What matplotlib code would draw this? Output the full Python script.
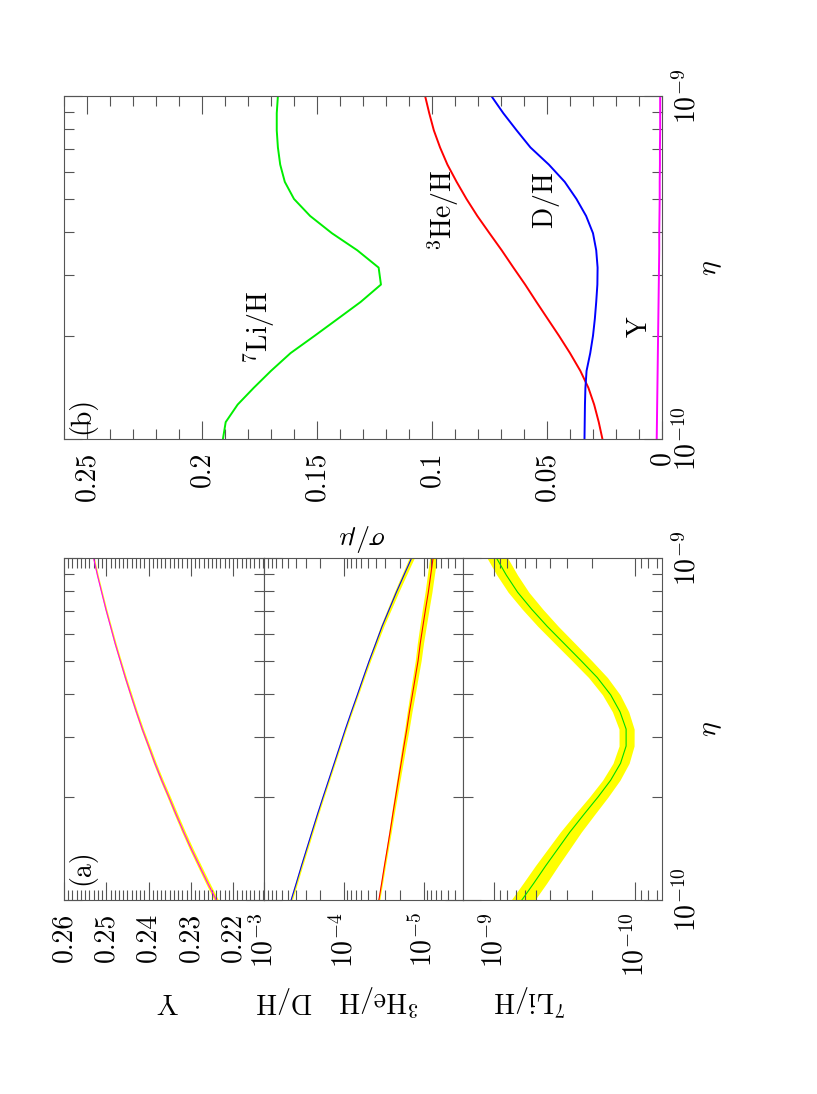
import matplotlib
matplotlib.use("Agg")
import matplotlib.pyplot as plt
from matplotlib.ticker import MultipleLocator, FormatStrFormatter, NullFormatter
import numpy as np

plt.rcParams['font.family'] = 'cmr10'
plt.rcParams['mathtext.fontset'] = 'cm'
plt.rcParams['axes.formatter.use_mathtext'] = True

# baryon-to-photon ratio grid (units of 1e-10)
eta10 = [1.00, 1.12, 1.26, 1.41, 1.58, 1.78, 2.00, 2.24, 2.51, 2.82, 3.16,
         3.55, 3.98, 4.47, 5.01, 5.62, 6.31, 7.08, 7.94, 8.91, 10.0]

# mean abundances
Y_mean = [0.2240, 0.2260, 0.2280, 0.2299, 0.2317, 0.2335, 0.2352, 0.2369, 0.2385, 0.2400, 0.2415,
          0.2429, 0.2442, 0.2455, 0.2467, 0.2479, 0.2490, 0.2501, 0.2511, 0.2521, 0.2530]
DH_mean = [4.57e-4, 3.94e-4, 3.39e-4, 2.92e-4, 2.51e-4, 2.14e-4, 1.82e-4, 1.55e-4, 1.32e-4, 1.12e-4, 9.55e-5,
           8.04e-5, 6.76e-5, 5.69e-5, 4.79e-5, 3.98e-5, 3.31e-5, 2.69e-5, 2.19e-5, 1.76e-5, 1.41e-5]
He3_mean = [3.63e-5, 3.35e-5, 3.09e-5, 2.85e-5, 2.63e-5, 2.43e-5, 2.24e-5, 2.07e-5, 1.91e-5, 1.76e-5, 1.62e-5,
            1.50e-5, 1.38e-5, 1.27e-5, 1.17e-5, 1.10e-5, 1.02e-5, 9.44e-6, 8.71e-6, 8.13e-6, 7.59e-6]
Li7_mean = [6.31e-10, 5.19e-10, 4.27e-10, 3.51e-10, 2.88e-10, 2.29e-10, 1.82e-10, 1.48e-10, 1.26e-10, 1.15e-10, 1.15e-10,
            1.27e-10, 1.48e-10, 1.84e-10, 2.40e-10, 3.16e-10, 4.17e-10, 5.37e-10, 6.76e-10, 8.13e-10, 9.55e-10]

# relative uncertainties sigma/mu
Y_rel = [0.0023, 0.0022, 0.0021, 0.0020, 0.0019, 0.0018, 0.0017, 0.0016, 0.0015, 0.0014, 0.0013,
         0.0012, 0.0012, 0.0011, 0.0010, 0.0010, 0.0009, 0.0009, 0.0008, 0.0008, 0.0008]
DH_rel = [0.0337, 0.0336, 0.0335, 0.0333, 0.0328, 0.0312, 0.0300, 0.0292, 0.0286, 0.0281, 0.0280,
          0.0286, 0.0300, 0.0330, 0.0372, 0.0423, 0.0492, 0.0572, 0.0632, 0.0690, 0.0742]
He3_rel = [0.0259, 0.0275, 0.0295, 0.0320, 0.0355, 0.0400, 0.0448, 0.0497, 0.0546, 0.0595, 0.0646,
           0.0697, 0.0750, 0.0803, 0.0850, 0.0893, 0.0933, 0.0965, 0.0992, 0.1012, 0.1030]
Li7_rel = [0.1909, 0.1897, 0.1845, 0.1775, 0.1700, 0.1615, 0.1510, 0.1410, 0.1310, 0.1222, 0.1232,
           0.1325, 0.1435, 0.1530, 0.1600, 0.1640, 0.1660, 0.1670, 0.1675, 0.1675, 0.1670]

W, H = 817, 1094
GRAY = '#555555'
FS = 20

eta = np.array(eta10) * 1e-10

fig = plt.figure(figsize=(W / 100, H / 100), dpi=100)


def box(x0, y0, x1, y1):
    return [x0 / W, 1 - y1 / H, (x1 - x0) / W, (y1 - y0) / H]


def ftext(px, py, s, rot):
    fig.text(px / W, 1 - py / H, s, rotation=rot, ha='center', va='center', fontsize=FS)


def setup(ax, label_right):
    ax.set_yscale('log')
    ax.set_ylim(1e-10, 1e-9)
    ax.yaxis.set_minor_formatter(NullFormatter())
    ax.tick_params(which='both', direction='in', top=True, bottom=True, left=True, right=True,
                   color=GRAY, width=0.8, labelsize=FS)
    ax.tick_params(which='major', length=13)
    ax.tick_params(which='minor', length=7)
    ax.tick_params(axis='y', labelleft=False, labelright=label_right, labelrotation=90, pad=8)
    ax.tick_params(axis='x', labelrotation=90, pad=9)
    for s in ax.spines.values():
        s.set_color(GRAY)
        s.set_linewidth(0.8)


def band(ax, mu, rel, color, lw=0.8):
    mu = np.array(mu)
    rel = np.array(rel)
    ax.fill_betweenx(eta, mu * (1 - rel), mu * (1 + rel), color='#ffff00', lw=0)
    ax.plot(mu, eta, color=color, lw=lw)


# ---- panel (b): relative errors
axb = fig.add_axes(box(64, 96, 662, 439))
setup(axb, True)
axb.plot(Li7_rel, eta, color='#00ee00', lw=1.4)
axb.plot(He3_rel, eta, color='#ff0000', lw=1.4)
axb.plot(DH_rel, eta, color='#0000ff', lw=1.4)
axb.plot(Y_rel, eta, color='#ff00ff', lw=1.4)
axb.set_xlim(0.26, 0)
axb.xaxis.set_major_locator(MultipleLocator(0.05))
axb.xaxis.set_minor_locator(MultipleLocator(0.01))
axb.xaxis.set_major_formatter(FormatStrFormatter('%g'))

# ---- panel (a): abundances
axY = fig.add_axes(box(64, 558, 264, 900))
setup(axY, False)
band(axY, Y_mean, Y_rel, '#ff00ff')
axY.set_xlim(0.26, 0.2127)
axY.xaxis.set_major_locator(MultipleLocator(0.01))
axY.xaxis.set_minor_locator(MultipleLocator(0.001))
axY.xaxis.set_major_formatter(FormatStrFormatter('%g'))

axD = fig.add_axes(box(264, 558, 463, 900))
setup(axD, False)
band(axD, DH_mean, DH_rel, '#0000ff')
band(axD, He3_mean, He3_rel, '#ff0000')
axD.set_xscale('log')
axD.set_xlim(1e-3, 3.2e-6)
axD.xaxis.set_minor_formatter(NullFormatter())

axL = fig.add_axes(box(463, 558, 662, 900))
setup(axL, True)
band(axL, Li7_mean, Li7_rel, '#00dd00')
axL.set_xscale('log')
axL.set_xlim(1.65e-9, 6.4e-11)
axL.xaxis.set_minor_formatter(NullFormatter())

for ax in (axb, axY, axD, axL):
    ax.tick_params(axis='x', labelrotation=90, pad=9)
    for t in ax.yaxis.get_major_ticks():
        t.label2.set_verticalalignment('center')

# ---- labels
ftext(82, 415, '(b)', 90)
ftext(82, 867, '(a)', 90)
ftext(259, 327, r'$^{7}\mathrm{Li/H}$', 90)
ftext(443, 210, r'$^{3}\mathrm{He/H}$', 90)
ftext(546, 201, r'$\mathrm{D/H}$', 90)
ftext(640, 327, r'$\mathrm{Y}$', 90)
ftext(362, 537, r'$\sigma/\mu$', 180)
ftext(711, 268, r'$\eta$', 90)
ftext(711, 729, r'$\eta$', 90)
ftext(168, 1000, r'$\mathrm{Y}$', 180)
ftext(285, 1000, r'$\mathrm{D/H}$', 180)
ftext(379, 1000, r'$^{3}\mathrm{He/H}$', 180)
ftext(530, 1000, r'$^{7}\mathrm{Li/H}$', 180)

fig.savefig('out.png', dpi=100)
